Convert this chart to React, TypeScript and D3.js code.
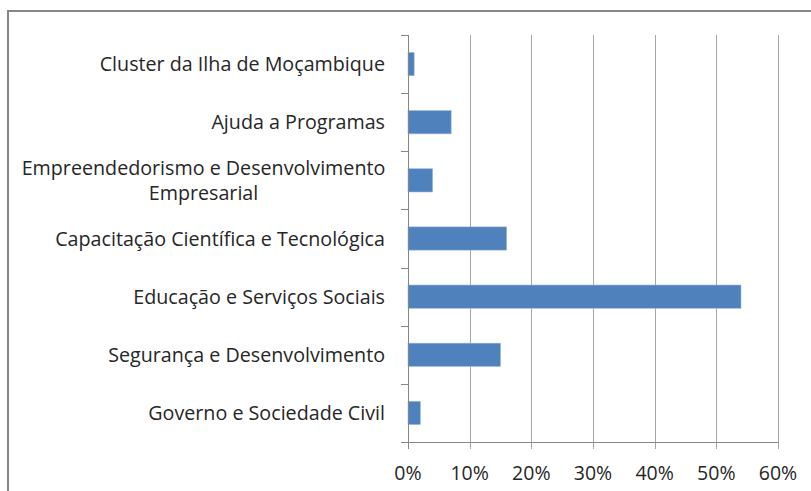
import React, { useEffect, useRef } from "react";
import * as d3 from "d3";

const categories: string[][] = [
  ["Cluster da Ilha de Moçambique"],
  ["Ajuda a Programas"],
  ["Empreendedorismo e Desenvolvimento", "Empresarial"],
  ["Capacitação Científica e Tecnológica"],
  ["Educação e Serviços Sociais"],
  ["Segurança e Desenvolvimento"],
  ["Governo e Sociedade Civil"],
];
const values: number[] = [1, 7, 4, 16, 54, 15, 2];
const xTicks: number[] = [0, 10, 20, 30, 40, 50, 60];

const W = 811;
const H = 491;
const FONT = "'Open Sans', Lato, sans-serif";

export default function App() {
  const ref = useRef<SVGSVGElement>(null);
  useEffect(() => {
    const svg = d3.select(ref.current);
    svg.selectAll("*").remove();

    const left = 408, right = 778, top = 35, bottom = 442;
    const x = d3.scaleLinear().domain([0, 60]).range([left, right]);
    const y = d3
      .scaleBand<number>()
      .domain(d3.range(categories.length))
      .range([top, bottom])
      .paddingInner(0.6)
      .paddingOuter(0.3);

    // outer frame
    svg
      .append("rect")
      .attr("x", 8)
      .attr("y", 11)
      .attr("width", W + 20)
      .attr("height", H + 20)
      .attr("fill", "white")
      .attr("stroke", "#868686")
      .attr("stroke-width", 2);

    // gridlines
    svg
      .selectAll("line.grid")
      .data(xTicks.slice(1))
      .enter()
      .append("line")
      .attr("x1", (d) => Math.round(x(d)) + 0.5)
      .attr("x2", (d) => Math.round(x(d)) + 0.5)
      .attr("y1", top)
      .attr("y2", bottom + 7)
      .attr("stroke", "#a6a6a6")
      .attr("stroke-width", 1);

    // bars
    svg
      .selectAll("rect.bar")
      .data(values)
      .enter()
      .append("rect")
      .attr("x", x(0))
      .attr("y", (_d, i) => y(i)!)
      .attr("width", (d) => x(d) - x(0))
      .attr("height", y.bandwidth())
      .attr("fill", "#4f81bd")
      .attr("stroke", "#9bb9de")
      .attr("stroke-width", 0.6);

    // y axis line
    svg
      .append("line")
      .attr("x1", left + 0.5)
      .attr("x2", left + 0.5)
      .attr("y1", top)
      .attr("y2", bottom + 7)
      .attr("stroke", "#868686");
    // y ticks at band edges
    const step = (bottom - top) / categories.length;
    const edges = d3.range(categories.length + 1).map((i) => top + i * step);
    svg
      .selectAll("line.ytick")
      .data(edges)
      .enter()
      .append("line")
      .attr("x1", left - 7)
      .attr("x2", left + 0.5)
      .attr("y1", (d) => Math.round(d) + 0.5)
      .attr("y2", (d) => Math.round(d) + 0.5)
      .attr("stroke", "#868686");

    // x axis line
    svg
      .append("line")
      .attr("x1", left - 7)
      .attr("x2", right + 0.5)
      .attr("y1", bottom + 0.5)
      .attr("y2", bottom + 0.5)
      .attr("stroke", "#868686");

    // x tick labels
    svg
      .selectAll("text.xt")
      .data(xTicks)
      .enter()
      .append("text")
      .attr("x", (d) => x(d))
      .attr("y", 480)
      .attr("text-anchor", "middle")
      .attr("font-family", FONT)
      .attr("font-size", 19.5)
      .attr("fill", "#262626")
      .text((d) => `${d}%`);

    // category labels
    categories.forEach((lines, i) => {
      const c = top + (i + 0.5) * step;
      const n = lines.length;
      lines.forEach((ln, j) => {
        const base = c + 7 + (j - (n - 1) / 2) * 25;
        svg
          .append("text")
          .attr("x", n > 1 ? 203.5 : 385)
          .attr("y", base)
          .attr("text-anchor", n > 1 ? "middle" : "end")
          .attr("font-family", FONT)
          .attr("font-size", 19.7)
          .attr("fill", "#262626")
          .text(ln);
      });
    });
  }, []);

  return (
    <svg
      ref={ref}
      width={W}
      height={H}
      style={{ position: "absolute", left: 0, top: 0, background: "white" }}
    />
  );
}
